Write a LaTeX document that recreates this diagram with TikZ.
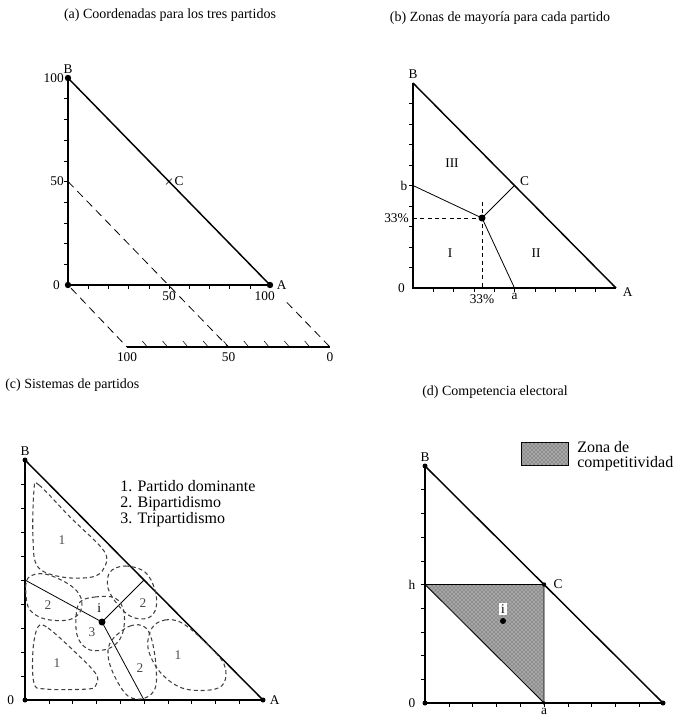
\documentclass[tikz,border=0pt]{standalone}
\usepackage{fontspec}
\setmainfont{Liberation Serif}
\usetikzlibrary{positioning,calc,patterns}

\begin{document}
\begin{tikzpicture}[x=0.75pt, y=-0.75pt,
		axis/.style={line width=1.2pt},
		hyp/.style={line width=1.1pt},
		zone/.style={line width=0.6pt},
		guide/.style={dash pattern=on 6pt off 4pt, line width=0.6pt},
		thinguide/.style={dash pattern=on 3pt off 2.5pt, line width=0.7pt},
		blob/.style={dash pattern=on 3pt off 2.2pt, line width=0.8pt, black!75},
		lbl/.style={font=\fontsize{10}{11}\selectfont, inner sep=1pt},
		blbl/.style={font=\fontsize{10}{11}\selectfont, inner sep=1pt, black!70},
		title/.style={font=\fontsize{10.5}{12}\selectfont, inner sep=0pt},
		zonefill/.style={fill=gray!70, postaction={pattern=crosshatch dots, pattern color=black!75}}]
		\useasboundingbox (0,0) rectangle (674,722);

		\node[title] (ta) at (170,15) {(a) Coordenadas para los tres partidos};
		\coordinate (aO) at (68,285);
		\coordinate (aB) at (68,78);
		\coordinate (aA) at (270,285);
		\coordinate (aC) at ($(aB)!0.5!(aA)$);
		\coordinate (aY) at ($(aO)!0.5!(aB)$);
		\coordinate (aX) at ($(aO)!0.5!(aA)$);
		\coordinate (aP) at (127,347);
		\coordinate (aQ) at (330,347);
		\coordinate (aM) at ($(aP)!0.5!(aQ)$);
		\draw[axis] (aB) -- (aO) -- (aA);
		\draw[hyp] (aB) -- (aA);
		\draw[axis] (aP) -- (aQ);
		\foreach \k in {1,...,9} {
			\draw ($(aO)!\k/10!(aB)$) -- ++(-4,0);
			\draw ($(aO)!\k/10!(aA)$) -- ++(0,4);
			\draw ($(aP)!\k/10!(aQ)$) -- ++(-5,-6);
		}
		\draw ($(aC)+(-3,3)$) -- ($(aC)+(3,-3)$);
		\draw[guide] ($(aO)!0.05!(aP)$) -- (aP);
		\draw[guide] (aY) -- (aM);
		\draw[guide] ($(aA)!0.28!(aQ)$) -- (aQ);
		\fill (aB) circle (3.2);
		\fill (aO) circle (3.2);
		\fill (aA) circle (3.2);
		\node[lbl, above=2pt of aB] (laB) {B};
		\node[lbl, left=2pt of aB] (la100) {100};
		\node[lbl, left=2pt of aY] (la50) {50};
		\node[lbl, left=5pt of aO] (la0) {0};
		\node[lbl, right=4pt of aA] (laA) {A};
		\node[lbl, below=4pt of aA, xshift=-4] (lax100) {100};
		\node[lbl, below=4pt of aX] (lax50) {50};
		\node[lbl, right=3pt of aC] (laC) {C};
		\node[lbl, below=3pt of aP] (lap100) {100};
		\node[lbl, below=3pt of aM] (lap50) {50};
		\node[lbl, below=3pt of aQ] (lap0) {0};

		\node[title] (tb) at (500,18) {(b) Zonas de mayoría para cada partido};
		\coordinate (bO) at (413,288);
		\coordinate (bB) at (413,83);
		\coordinate (bA) at (616,288);
		\coordinate (bC) at ($(bB)!0.5!(bA)$);
		\coordinate (bb) at ($(bO)!0.5!(bB)$);
		\coordinate (ba) at ($(bO)!0.5!(bA)$);
		\coordinate (bi) at (482,218);
		\coordinate (by) at (bO |- bi);
		\coordinate (bx) at (bi |- bO);
		\draw[axis] (bB) -- (bO) -- (bA);
		\draw[hyp] (bB) -- (bA);
		\foreach \k in {1,...,9} {
			\draw ($(bO)!\k/10!(bB)$) -- ++(-4,0);
			\draw ($(bO)!\k/10!(bA)$) -- ++(0,4);
		}
		\draw[zone] (bb) -- (bi) -- (bC);
		\draw[zone] (bi) -- (ba);
		\draw[thinguide] (by) -- (bi);
		\draw[thinguide] ($(bi)+(0,-16)$) -- (bx);
		\fill (bi) circle (3.5);
		\node[lbl, above=2pt of bB] (lbB) {B};
		\node[lbl, left=3pt of bb] (lbb) {b};
		\node[lbl, left=2pt of by] (lby) {33\%};
		\node[lbl, left=5pt of bO] (lb0) {0};
		\node[lbl, below=4pt of bx] (lbx) {33\%};
		\node[lbl, below=3pt of ba] (lba) {a};
		\node[lbl, right=4pt of bA, yshift=-3] (lbA) {A};
		\node[lbl, right=3pt of bC, yshift=3] (lbC) {C};
		\node[lbl] (lbIII) at (452,163) {III};
		\node[lbl] (lbI) at (450,253) {I};
		\node[lbl] (lbII) at (536,253) {II};

		\node[title, anchor=west] (tc) at (5,385) {(c) Sistemas de partidos};
		\coordinate (cO) at (25,700);
		\coordinate (cB) at (25,460);
		\coordinate (cA) at (263,700);
		\coordinate (cC) at ($(cB)!0.5!(cA)$);
		\coordinate (cb) at ($(cO)!0.5!(cB)$);
		\coordinate (ca) at ($(cO)!0.5!(cA)$);
		\coordinate (ci) at (102,622);
		\draw[axis] (cB) -- (cO) -- (cA);
		\draw[hyp] (cB) -- (cA);
		\foreach \k in {1,...,9} {
			\draw ($(cO)!\k/10!(cB)$) -- ++(-4,0);
			\draw ($(cO)!\k/10!(cA)$) -- ++(0,4);
		}
		\draw[zone] (cb) -- (ci) -- (cC);
		\draw[zone] (ci) -- (ca);
		\draw[blob] plot[smooth cycle, tension=0.6] coordinates {(34,490) (39,485) (70,517) (104,551) (104,568) (92,577) (62,577) (38,567) (33,540)};
		\draw[blob] plot[smooth cycle, tension=0.6] coordinates {(28,578) (45,574) (70,585) (81,598) (80,612) (68,620) (45,619) (30,610) (26,595)};
		\draw[blob] plot[smooth cycle, tension=0.6] coordinates {(80,602) (95,597) (115,598) (124,612) (122,635) (110,648) (90,650) (78,638) (76,618)};
		\draw[blob] plot[smooth cycle, tension=0.6] coordinates {(110,572) (125,566) (145,572) (155,590) (156,608) (148,618) (132,617) (118,605) (108,588)};
		\draw[blob] plot[smooth cycle, tension=0.6] coordinates {(38,627) (48,628) (75,652) (96,674) (96,685) (88,689) (45,689) (34,683) (33,650)};
		\draw[blob] plot[smooth cycle, tension=0.6] coordinates {(112,640) (130,626) (146,628) (154,650) (156,685) (145,698) (128,696) (114,675) (108,655)};
		\draw[blob] plot[smooth cycle, tension=0.6] coordinates {(152,628) (165,620) (182,623) (205,642) (224,664) (224,683) (210,690) (182,688) (160,672) (148,648)};
		\fill (cB) circle (2.5);
		\fill (cO) circle (2.5);
		\fill (cA) circle (2.5);
		\fill (ci) circle (3.5);
		\node[lbl, above=2pt of cB] (lcB) {B};
		\node[lbl, left=7pt of cO] (lc0) {0};
		\node[lbl, right=4pt of cA] (lcA) {A};
		\node[lbl, above=6pt of ci, xshift=-2] (lci) {i};
		\node[blbl] (lc1a) at (62,540) {1};
		\node[blbl] (lc2a) at (48,605) {2};
		\node[blbl] (lc3) at (92,632) {3};
		\node[blbl] (lc2b) at (143,603) {2};
		\node[blbl] (lc1b) at (57,663) {1};
		\node[blbl] (lc2c) at (140,668) {2};
		\node[blbl] (lc1c) at (178,655) {1};
		\node[anchor=north west, align=left, inner sep=0pt, font=\fontsize{12}{12}\selectfont] (legc) at (120,480) {1. Partido dominante\\2. Bipartidismo\\3. Tripartidismo};

		\node[title] (td) at (495,392) {(d) Competencia electoral};
		\coordinate (dO) at (425,703);
		\coordinate (dB) at (425,466);
		\coordinate (dA) at (663,703);
		\coordinate (dC) at ($(dB)!0.5!(dA)$);
		\coordinate (dh) at ($(dO)!0.5!(dB)$);
		\coordinate (da) at ($(dO)!0.5!(dA)$);
		\coordinate (di) at (503,621);
		\fill[zonefill] (dh) -- (dC) -- (da) -- cycle;
		\draw[zone] (dh) -- (dC) -- (da) -- cycle;
		\draw[axis] (dB) -- (dO) -- (dA);
		\draw[hyp] (dB) -- (dA);
		\foreach \k in {1,...,9} {
			\draw ($(dO)!\k/10!(dB)$) -- ++(-4,0);
			\draw ($(dO)!\k/10!(dA)$) -- ++(0,4);
		}
		\fill (dB) circle (2.5);
		\fill (dO) circle (2.5);
		\fill (dA) circle (2.5);
		\fill (dC) circle (2.2);
		\fill (da) circle (1.8);
		\fill (di) circle (3);
		\node[lbl, above=2pt of dB] (ldB) {B};
		\node[lbl, left=6pt of dh] (ldh) {h};
		\node[lbl, left=6pt of dO] (ld0) {0};
		\node[lbl, right=6pt of dC] (ldC) {C};
		\node[lbl, below=3pt of da] (lda) {a};
		\node[lbl, fill=white, inner sep=1.5pt, above=4pt of di] (ldi) {i};
		\node[zonefill, draw, line width=0.4pt, minimum width=35pt, minimum height=17pt, inner sep=0pt] (legd) at (545,454) {};
		\node[anchor=north west, align=left, inner sep=0pt, font=\fontsize{12}{11}\selectfont] (legdt) at (577,441) {Zona de\\competitividad};
	\end{tikzpicture}
\end{document}
